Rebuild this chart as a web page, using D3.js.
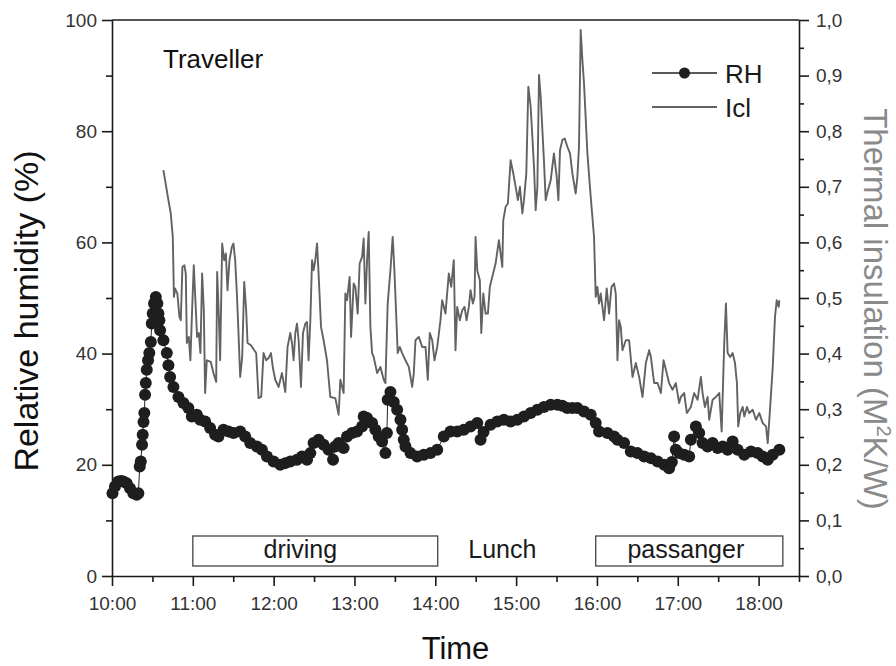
<!DOCTYPE html>
<html><head><meta charset="utf-8">
<script src="https://cdn.jsdelivr.net/npm/d3@7"></script>
<style>body{margin:0;background:#fff}svg{display:block}</style>
</head><body>
<svg id="chart" width="896" height="666"></svg>
<script>
// ---------- data ----------
const xTickHours = [10, 11, 12, 13, 14, 15, 16, 17, 18];
const xTickLabels = ["10:00", "11:00", "12:00", "13:00", "14:00", "15:00", "16:00", "17:00", "18:00"];
const rhTickValues = [0, 20, 40, 60, 80, 100];
const iclTickValues = [0, 0.1, 0.2, 0.3, 0.4, 0.5, 0.6, 0.7, 0.8, 0.9, 1.0];
const iclTickLabels = ["0,0", "0,1", "0,2", "0,3", "0,4", "0,5", "0,6", "0,7", "0,8", "0,9", "1,0"];
const seriesNames = ["RH", "Icl"];

const activityNames = ["driving", "Lunch", "passanger"];
const activityStart = [11.0, 14.03, 15.985];
const activityEnd = [14.03, 15.985, 18.30];
const activityLabelAt = [12.33, 14.83, 17.1];
const activityBoxed = [true, false, true];

const rhTime = [10.006,10.037,10.078,10.112,10.140,10.182,10.223,10.264,10.306,10.326,10.343,10.356,10.372,10.380,10.390,10.400,10.409,10.418,10.430,10.446,10.462,10.480,10.492,10.504,10.520,10.542,10.561,10.574,10.586,10.595,10.636,10.678,10.698,10.719,10.760,10.822,10.884,10.945,10.988,11.050,11.090,11.152,11.214,11.276,11.317,11.379,11.441,11.503,11.586,11.648,11.710,11.793,11.855,11.917,11.999,12.082,12.144,12.206,12.289,12.351,12.413,12.454,12.494,12.556,12.618,12.680,12.735,12.763,12.804,12.866,12.908,12.970,13.032,13.094,13.114,13.156,13.218,13.259,13.300,13.342,13.383,13.401,13.411,13.445,13.486,13.528,13.569,13.590,13.610,13.631,13.693,13.776,13.858,13.941,14.024,14.105,14.188,14.271,14.353,14.436,14.519,14.560,14.597,14.684,14.767,14.849,14.932,15.015,15.097,15.180,15.263,15.344,15.428,15.511,15.572,15.634,15.696,15.758,15.840,15.923,15.985,16.026,16.130,16.212,16.254,16.336,16.419,16.502,16.584,16.667,16.750,16.832,16.893,16.927,16.955,16.976,17.017,17.079,17.141,17.162,17.224,17.265,17.307,17.369,17.431,17.493,17.555,17.617,17.679,17.741,17.823,17.906,17.989,18.051,18.113,18.175,18.257];
const rhValue = [14.9,16.1,17.0,17.1,17.0,16.7,15.8,14.9,14.6,14.9,19.7,20.6,23.6,25.4,27.7,29.3,32.6,34.7,37.1,38.8,40.1,42.1,45.4,47.2,49.0,50.2,49.0,47.2,46.0,44.2,42.4,40.1,37.9,35.8,34.0,32.2,31.1,30.2,28.7,29.0,28.1,27.8,26.6,25.4,25.1,26.3,26.0,25.7,26.0,25.1,23.9,23.3,22.7,21.5,20.6,20.0,20.3,20.6,20.9,21.5,20.9,22.1,23.9,24.5,23.6,22.7,20.9,23.3,23.9,23.0,25.1,25.7,26.0,26.9,28.7,28.4,27.5,26.3,25.1,24.2,22.1,25.7,31.7,33.1,31.3,29.9,28.1,26.3,24.5,23.3,22.1,21.5,21.8,22.1,22.7,25.1,26.0,26.0,26.3,26.9,27.5,24.5,25.9,27.2,27.8,28.1,27.8,28.1,28.7,29.3,29.9,30.4,30.8,30.8,30.6,30.2,30.2,30.2,29.6,29.0,27.5,26.0,25.7,25.1,24.5,23.9,22.4,22.1,21.5,21.2,20.6,20.0,19.4,20.5,25.1,22.7,22.1,21.8,21.5,24.5,26.9,25.7,23.9,23.3,23.9,23.0,23.3,22.7,24.2,22.7,21.8,22.4,22.1,21.5,20.9,21.8,22.7];

const iclTime = [10.636,10.698,10.727,10.752,10.760,10.766,10.781,10.809,10.834,10.851,10.871,10.896,10.913,10.926,10.950,10.970,10.991,11.012,11.032,11.053,11.074,11.094,11.115,11.136,11.152,11.173,11.223,11.255,11.289,11.301,11.322,11.338,11.363,11.388,11.409,11.429,11.454,11.483,11.503,11.524,11.545,11.565,11.586,11.611,11.636,11.660,11.677,11.719,11.760,11.784,11.813,11.846,11.875,11.908,11.937,11.967,11.991,12.020,12.061,12.103,12.144,12.172,12.206,12.227,12.247,12.268,12.289,12.309,12.338,12.363,12.392,12.413,12.432,12.454,12.475,12.494,12.515,12.537,12.556,12.586,12.618,12.660,12.701,12.763,12.804,12.825,12.866,12.887,12.908,12.940,12.958,12.990,13.011,13.040,13.064,13.094,13.114,13.135,13.156,13.176,13.197,13.218,13.238,13.280,13.321,13.362,13.383,13.411,13.445,13.473,13.494,13.519,13.535,13.560,13.590,13.631,13.672,13.714,13.734,13.755,13.796,13.838,13.879,13.907,13.932,13.962,13.990,14.024,14.064,14.085,14.126,14.167,14.197,14.229,14.250,14.271,14.304,14.333,14.362,14.387,14.415,14.436,14.465,14.486,14.498,14.519,14.551,14.569,14.594,14.622,14.651,14.675,14.705,14.746,14.787,14.808,14.829,14.841,14.870,14.898,14.932,14.965,14.994,15.022,15.047,15.077,15.097,15.126,15.151,15.180,15.201,15.221,15.242,15.263,15.283,15.304,15.325,15.344,15.366,15.394,15.428,15.468,15.502,15.523,15.543,15.572,15.601,15.634,15.667,15.696,15.737,15.758,15.778,15.799,15.820,15.840,15.882,15.923,15.964,15.985,16.006,16.026,16.047,16.088,16.121,16.150,16.180,16.212,16.233,16.254,16.274,16.295,16.316,16.357,16.398,16.440,16.481,16.522,16.564,16.605,16.646,16.667,16.708,16.750,16.791,16.824,16.853,16.893,16.935,16.976,17.017,17.038,17.079,17.113,17.162,17.203,17.245,17.286,17.307,17.336,17.369,17.389,17.431,17.472,17.513,17.543,17.575,17.596,17.617,17.649,17.679,17.708,17.732,17.748,17.773,17.803,17.823,17.856,17.885,17.927,17.968,18.009,18.051,18.092,18.113,18.141,18.175,18.203,18.224,18.249,18.257];
const iclValue = [0.730,0.676,0.652,0.610,0.550,0.502,0.517,0.508,0.466,0.460,0.556,0.559,0.544,0.419,0.430,0.388,0.478,0.559,0.496,0.430,0.437,0.401,0.544,0.478,0.329,0.388,0.385,0.365,0.349,0.547,0.466,0.388,0.598,0.568,0.580,0.514,0.568,0.592,0.598,0.568,0.508,0.437,0.358,0.394,0.529,0.478,0.419,0.415,0.406,0.401,0.320,0.322,0.401,0.388,0.392,0.401,0.374,0.353,0.340,0.365,0.331,0.412,0.437,0.419,0.388,0.437,0.454,0.424,0.340,0.437,0.454,0.457,0.388,0.460,0.568,0.550,0.568,0.598,0.544,0.448,0.424,0.388,0.322,0.320,0.290,0.353,0.329,0.508,0.496,0.538,0.430,0.526,0.520,0.472,0.562,0.574,0.607,0.490,0.568,0.619,0.448,0.401,0.394,0.365,0.376,0.353,0.347,0.490,0.550,0.610,0.550,0.460,0.401,0.412,0.401,0.388,0.376,0.340,0.365,0.424,0.430,0.412,0.412,0.353,0.437,0.424,0.388,0.412,0.460,0.496,0.472,0.544,0.520,0.568,0.406,0.484,0.460,0.478,0.484,0.460,0.484,0.514,0.490,0.502,0.610,0.550,0.532,0.437,0.508,0.472,0.472,0.520,0.538,0.562,0.604,0.580,0.556,0.640,0.664,0.670,0.748,0.724,0.700,0.676,0.700,0.652,0.676,0.724,0.880,0.844,0.790,0.736,0.658,0.700,0.901,0.862,0.802,0.748,0.676,0.694,0.712,0.760,0.718,0.676,0.766,0.784,0.787,0.772,0.760,0.724,0.688,0.718,0.772,0.982,0.928,0.886,0.760,0.682,0.610,0.502,0.520,0.490,0.508,0.460,0.517,0.472,0.520,0.526,0.508,0.388,0.460,0.448,0.406,0.424,0.424,0.358,0.383,0.358,0.322,0.383,0.406,0.394,0.347,0.347,0.329,0.388,0.371,0.347,0.335,0.347,0.311,0.322,0.329,0.293,0.304,0.329,0.317,0.358,0.329,0.304,0.322,0.281,0.317,0.322,0.329,0.260,0.419,0.490,0.401,0.394,0.401,0.383,0.347,0.269,0.293,0.304,0.287,0.304,0.293,0.299,0.281,0.293,0.275,0.269,0.239,0.299,0.376,0.466,0.496,0.484,0.496];

// ---------- layout ----------
const FONT = "'Liberation Sans', Arial, Helvetica, sans-serif";
const L = 112, R = 799, T = 20, B = 576;
const svg = d3.select("#chart").style("font-family", FONT);

const x = d3.scaleLinear().domain([10, 18.5]).range([L, R]);
const yL = d3.scaleLinear().domain([0, 100]).range([B, T]);
const yR = d3.scaleLinear().domain([0, 1]).range([B, T]);

const rhData = rhTime.map((t, i) => ({ t, v: rhValue[i] }));
const iclData = iclTime.map((t, i) => ({ t, v: iclValue[i] }));

const AXC = "#1a1a1a", TXC = "#333";

// top frame line
svg.append("line").attr("x1", L).attr("x2", R).attr("y1", T).attr("y2", T)
  .attr("stroke", AXC).attr("stroke-width", 1.6);

function styleAxis(g, fs) {
  g.selectAll(".domain").attr("stroke", AXC).attr("stroke-width", 1.6);
  g.selectAll(".tick line").attr("stroke", AXC).attr("stroke-width", 1.6);
  g.selectAll(".tick text").attr("fill", TXC).style("font-size", fs + "px").style("font-family", FONT);
}

// bottom axis
const gx = svg.append("g").attr("transform", `translate(0,${B})`)
  .call(d3.axisBottom(x).tickValues(xTickHours).tickFormat((d, i) => xTickLabels[i]).tickSize(10).tickSizeOuter(0).tickPadding(11));
styleAxis(gx, 19);
const gxm = svg.append("g").attr("transform", `translate(0,${B})`)
  .call(d3.axisBottom(x).tickValues(xTickHours.map(h => h + 0.5)).tickFormat("").tickSize(6).tickSizeOuter(0));
gxm.select(".domain").remove(); styleAxis(gxm, 19);

// left axis
const gl = svg.append("g").attr("transform", `translate(${L},0)`)
  .call(d3.axisLeft(yL).tickValues(rhTickValues).tickSize(10).tickSizeOuter(0).tickPadding(5));
styleAxis(gl, 19);
const glm = svg.append("g").attr("transform", `translate(${L},0)`)
  .call(d3.axisLeft(yL).tickValues(rhTickValues.slice(0, -1).map(v => v + 10)).tickFormat("").tickSize(6).tickSizeOuter(0));
glm.select(".domain").remove(); styleAxis(glm, 19);

// right axis
const gr = svg.append("g").attr("transform", `translate(${R},0)`)
  .call(d3.axisRight(yR).tickValues(iclTickValues).tickFormat((d, i) => iclTickLabels[i]).tickSize(10).tickSizeOuter(0).tickPadding(7));
styleAxis(gr, 19);
const grm = svg.append("g").attr("transform", `translate(${R},0)`)
  .call(d3.axisRight(yR).tickValues(iclTickValues.slice(0, -1).map(v => v + 0.05)).tickFormat("").tickSize(5).tickSizeOuter(0));
grm.select(".domain").remove(); styleAxis(grm, 19);

// axis titles
svg.append("text").attr("transform", `translate(38,311) rotate(-90)`)
  .attr("text-anchor", "middle").style("font-size", "34px").attr("fill", "#111")
  .text("Relative humidity (%)");
const rt = svg.append("text").attr("transform", `translate(864,309) rotate(90)`)
  .attr("text-anchor", "middle").style("font-size", "33px").attr("fill", "#8a8a8a");
rt.append("tspan").text("Thermal insulation (M");
rt.append("tspan").attr("dy", -13).style("font-size", "20px").text("2");
rt.append("tspan").attr("dy", 13).text("K/W)");
svg.append("text").attr("x", (L + R) / 2).attr("y", 659).attr("text-anchor", "middle")
  .style("font-size", "31px").attr("fill", "#111").text("Time");

// Icl line
svg.append("path").datum(iclData)
  .attr("fill", "none").attr("stroke", "#626262").attr("stroke-width", 1.9).attr("stroke-linejoin", "round")
  .attr("d", d3.line().x(d => x(d.t)).y(d => yR(d.v)));

// RH line + dots
svg.append("path").datum(rhData)
  .attr("fill", "none").attr("stroke", "#222").attr("stroke-width", 1)
  .attr("d", d3.line().x(d => x(d.t)).y(d => yL(d.v)));
svg.append("g").selectAll("circle").data(rhData).join("circle")
  .attr("cx", d => x(d.t)).attr("cy", d => yL(d.v)).attr("r", 6).attr("fill", "#1e1e1e");

// activity annotations
const boxTop = 536, boxBot = 566;
activityNames.forEach((name, i) => {
  if (activityBoxed[i]) {
    svg.append("rect").attr("x", x(activityStart[i])).attr("y", boxTop)
      .attr("width", x(activityEnd[i]) - x(activityStart[i])).attr("height", boxBot - boxTop)
      .attr("fill", "#fff").attr("stroke", "#444").attr("stroke-width", 1.3);
  }
  svg.append("text").attr("x", x(activityLabelAt[i])).attr("y", 558).attr("text-anchor", "middle")
    .style("font-size", "25px").attr("fill", "#1a1a1a").text(name);
});

// "Traveller" label
svg.append("text").attr("x", 163).attr("y", 68).style("font-size", "26px").attr("fill", "#111").text("Traveller");

// legend
const legX1 = 652, legX2 = 717, legRows = [73, 107];
svg.append("line").attr("x1", legX1).attr("x2", legX2).attr("y1", legRows[0]).attr("y2", legRows[0])
  .attr("stroke", "#222").attr("stroke-width", 1.3);
svg.append("circle").attr("cx", (legX1 + legX2) / 2).attr("cy", legRows[0]).attr("r", 5.5).attr("fill", "#1e1e1e");
svg.append("line").attr("x1", legX1).attr("x2", legX2).attr("y1", legRows[1]).attr("y2", legRows[1])
  .attr("stroke", "#626262").attr("stroke-width", 1.9);
seriesNames.forEach((n, i) => {
  svg.append("text").attr("x", 725).attr("y", legRows[i] + 10).style("font-size", "26px").attr("fill", "#1a1a1a").text(n);
});
</script>
</body></html>
